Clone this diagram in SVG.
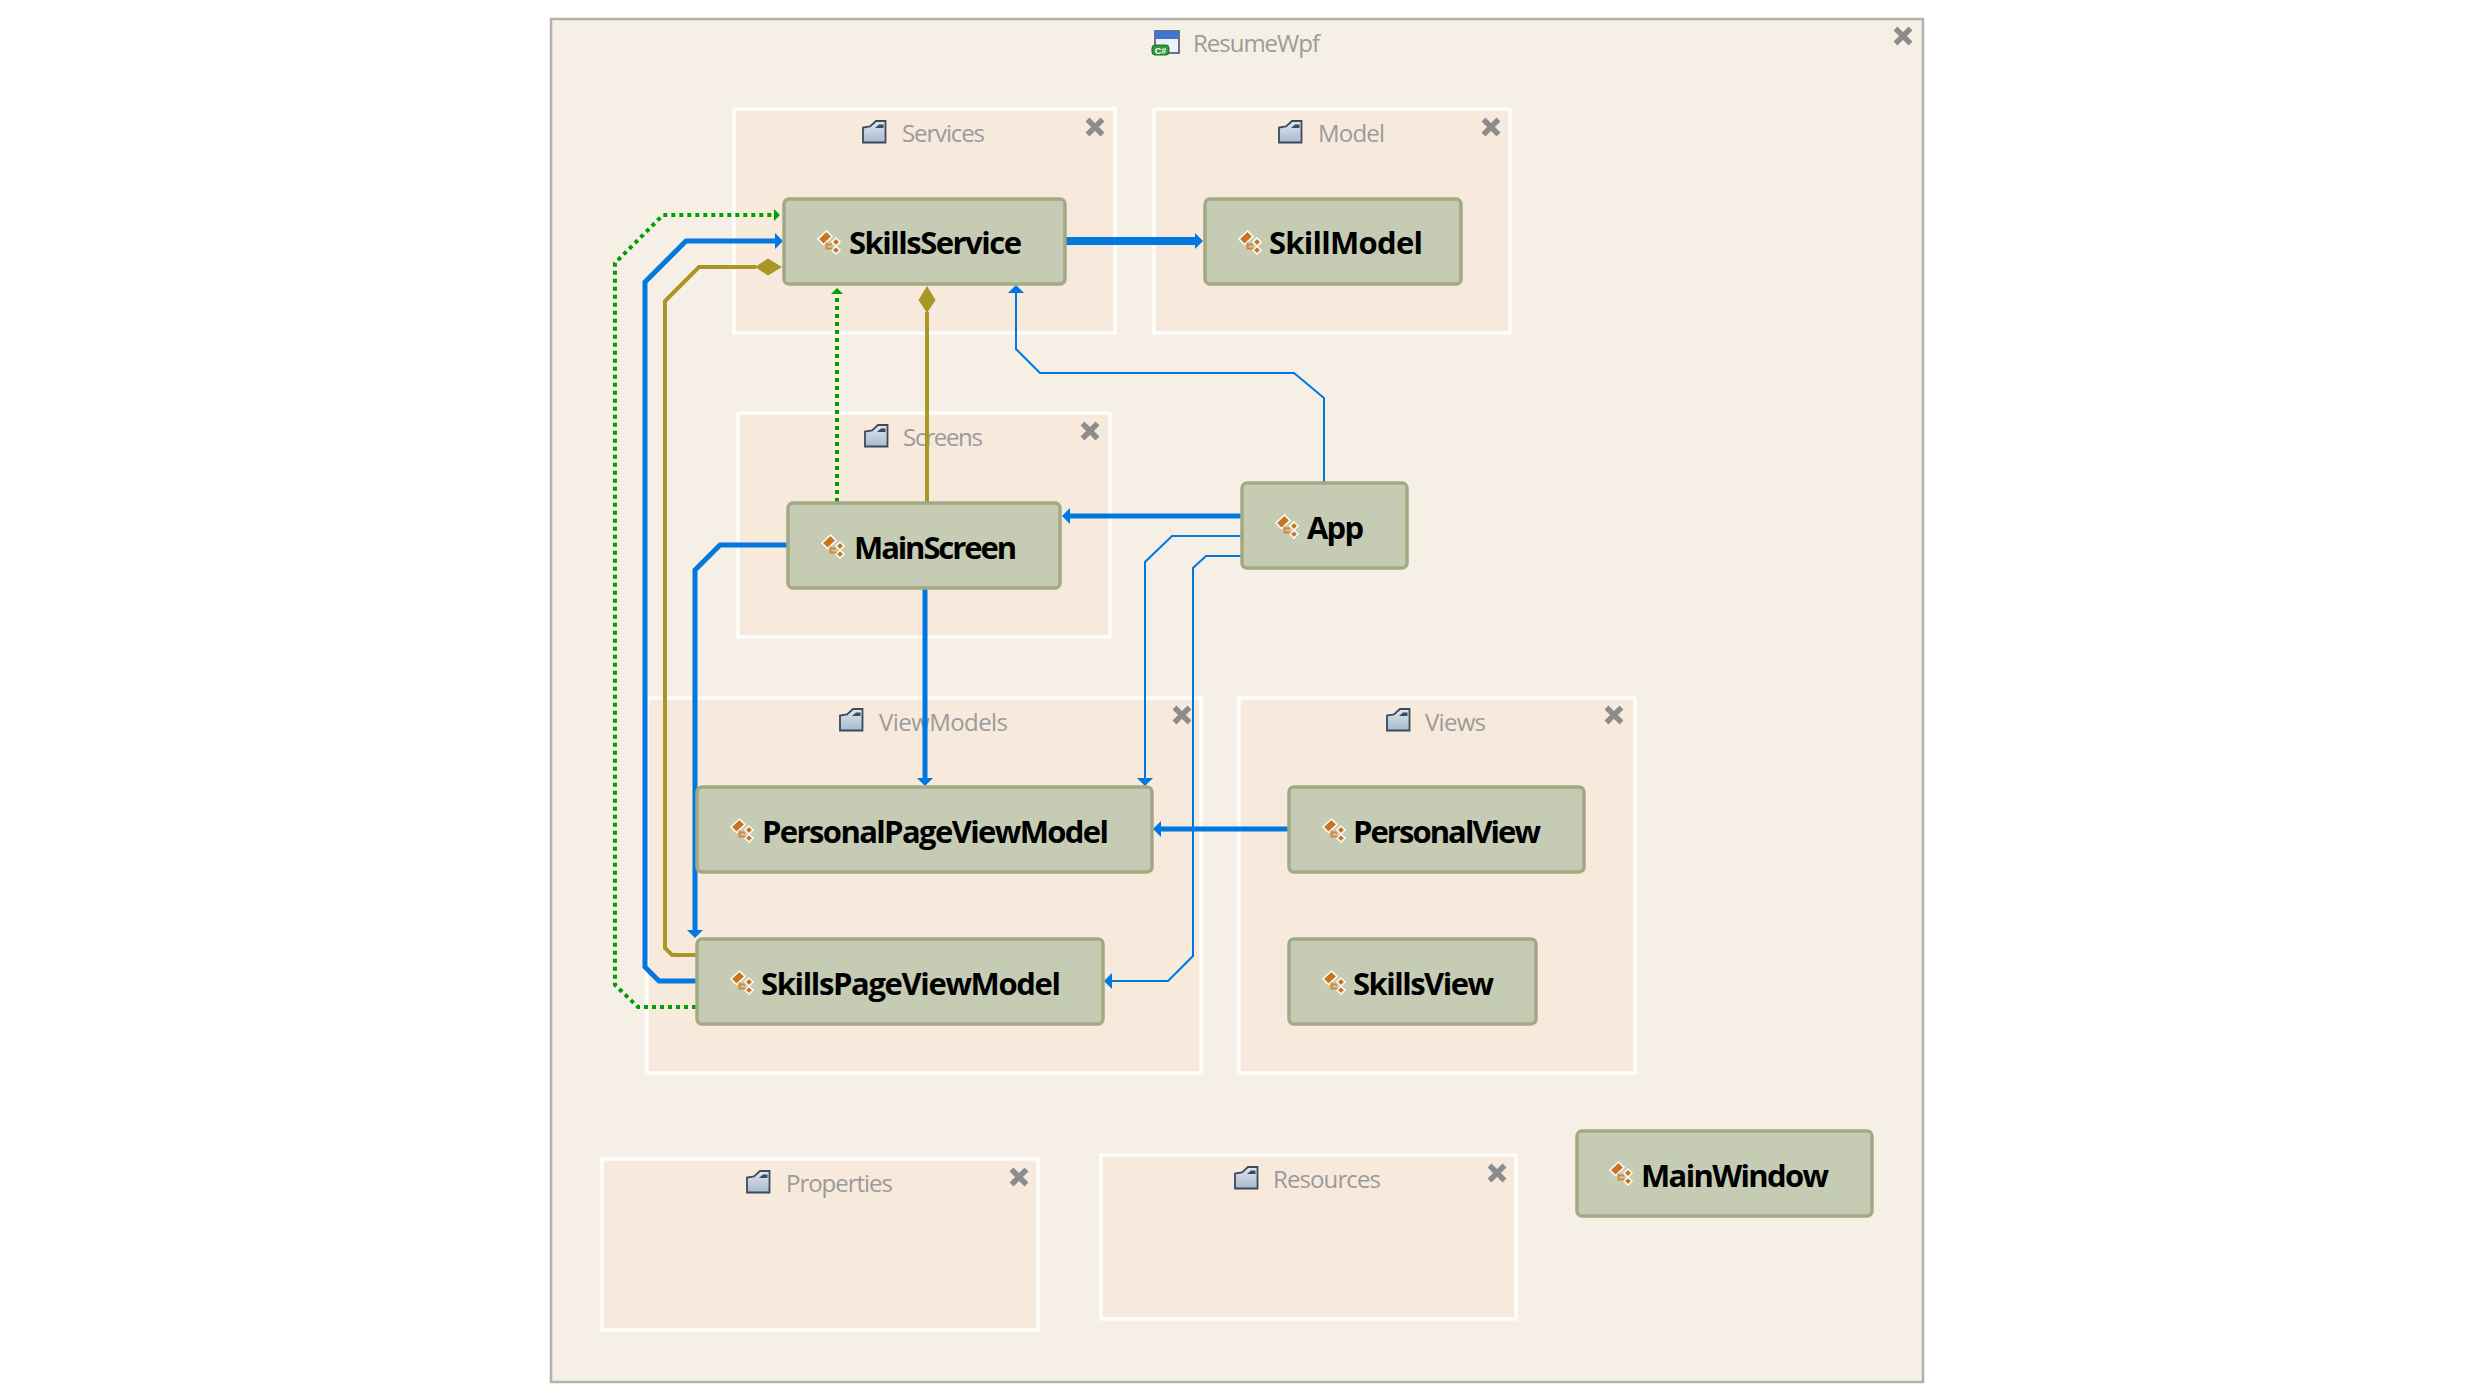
<svg xmlns="http://www.w3.org/2000/svg" width="2474" height="1400" viewBox="0 0 2474 1400">
<style>
.bg{fill:#fff}
.outer{fill:#f6efe5;stroke:#b3b3ad;stroke-width:2.5}
.grp{fill:#f7e9dc;stroke:#fffdfa;stroke-width:3.500}
.gl{font-family:"Open Sans","Noto Sans",sans-serif;font-size:24px;fill:#9b9b9b}
.nd{fill:#c6cbb3;stroke:#a2aa84;stroke-width:3.500}
.nl{font-family:"Open Sans","Noto Sans",sans-serif;font-weight:700;font-size:31px;fill:#000}
.x{stroke:#8c8c8c;stroke-width:5.500;fill:none}
.c{fill:none}
.blue{stroke:#0078e0}
.gold{stroke:#a99626;stroke-width:4}
.green{stroke:#00a000;stroke-width:4;stroke-dasharray:4 4}
.w5{stroke-width:5}
.w2{stroke-width:2}
.w7{stroke-width:8}
</style>
<defs>
<linearGradient id="fg" x1="0" y1="0" x2="0" y2="1"><stop offset="0" stop-color="#dfe6ee"/><stop offset="1" stop-color="#a6bad0"/></linearGradient>
<marker id="ab" markerUnits="userSpaceOnUse" markerWidth="9" markerHeight="18" refX="1" refY="9" orient="auto"><polygon points="0,1 8,9 0,17" fill="#0078e0"/></marker>
<marker id="ag" markerUnits="userSpaceOnUse" markerWidth="8" markerHeight="14" refX="1" refY="7" orient="auto"><polygon points="0,1 6,7 0,13" fill="#00a000"/></marker>
<marker id="dm" markerUnits="userSpaceOnUse" markerWidth="28" markerHeight="18" refX="1" refY="9" orient="auto"><polygon points="0,9 13,0.5 27,9 13,17.500" fill="#a99626"/></marker>
<g id="folder"><path d="M1 22.500V7.500L8 6.500L14 1H23.500V22.500Z" fill="url(#fg)" stroke="#3c4a5c" stroke-width="1.800"/><path d="M13 8L17 4.500H21.500V8Z" fill="#3c4a5c"/></g>
<g id="cls"><path d="M1 9L9.500 1L15 6.500L6.500 14.500Z" fill="#c8751f" stroke="#fff" stroke-width="1.500"/><path d="M15 12L19 8L23 12L19 16Z" fill="#c8751f" stroke="#fff" stroke-width="1.500"/><path d="M15 20L19 16.500L23 20L19 24Z" fill="#c8751f" stroke="#fff" stroke-width="1.500"/><path d="M9.500 12.500V18.500H15.500M10 14.500H15" fill="none" stroke="#d9853a" stroke-width="1.800"/></g>
<g id="cx"><path d="M-7.500-7.500L7.500 7.500M7.500-7.500L-7.500 7.500"/></g>
</defs>
<rect class="bg" width="2474" height="1400"/>
<g id="ResumeWpf">
<rect class="outer" x="551" y="19" width="1372" height="1363"/>
<g><rect x="1155" y="31" width="24" height="22" fill="#eef1f6" stroke="#3c4a64" stroke-width="1.500"/><rect x="1155" y="31" width="24" height="8" fill="#3f74cf"/><rect x="1152" y="45" width="17" height="10" rx="3" fill="#2f9a3c" stroke="#1c6e28"/><text x="1160.500" y="53.500" text-anchor="middle" style="font-family:'Liberation Sans',sans-serif;font-size:9px;font-weight:700;fill:#fff">C#</text></g>
<text class="gl" x="1193" y="52" textLength="127">ResumeWpf</text>
<use href="#cx" class="x" x="1903" y="36"/>
</g>
<g id="Services"><rect class="grp" x="734" y="109" width="381" height="224"/><use href="#folder" x="862" y="120"/><text class="gl" x="902" y="142" textLength="83">Services</text><use href="#cx" class="x" x="1095" y="127"/></g>
<g id="Model"><rect class="grp" x="1154" y="109" width="356" height="224"/><use href="#folder" x="1278" y="120"/><text class="gl" x="1318" y="142" textLength="67">Model</text><use href="#cx" class="x" x="1491" y="127"/></g>
<g id="Screens"><rect class="grp" x="738" y="413" width="372" height="224"/><use href="#folder" x="864" y="424"/><text class="gl" x="903" y="446" textLength="80">Screens</text><use href="#cx" class="x" x="1090" y="431"/></g>
<g id="ViewModels"><rect class="grp" x="647" y="698" width="554" height="375"/><use href="#folder" x="839" y="708"/><text class="gl" x="879" y="731" textLength="129">ViewModels</text><use href="#cx" class="x" x="1182" y="715"/></g>
<g id="Views"><rect class="grp" x="1239" y="698" width="396" height="375"/><use href="#folder" x="1386" y="708"/><text class="gl" x="1425" y="731" textLength="61">Views</text><use href="#cx" class="x" x="1614" y="715"/></g>
<g id="Properties"><rect class="grp" x="602" y="1159" width="436" height="171"/><use href="#folder" x="746" y="1170"/><text class="gl" x="786" y="1192" textLength="107">Properties</text><use href="#cx" class="x" x="1019" y="1177"/></g>
<g id="Resources"><rect class="grp" x="1101" y="1155" width="415" height="164"/><use href="#folder" x="1234" y="1166"/><text class="gl" x="1273" y="1188" textLength="108">Resources</text><use href="#cx" class="x" x="1497" y="1173"/></g>
<g id="connectors">
<path class="c green" d="M696 1007H638L615 985V263L663 215H775" marker-end="url(#ag)"/>
<path class="c blue w5" d="M696 981H659L645 967V282L686 241H776" marker-end="url(#ab)"/>
<path class="c gold" d="M696 955H672L665 948V301L699 267H756" marker-end="url(#dm)"/>
<path class="c blue w5" d="M787 545H720L695 570V931" marker-end="url(#ab)"/>
<path class="c green" d="M837 502V293" marker-end="url(#ag)"/>
<path class="c gold" d="M927 502V312" marker-end="url(#dm)"/>
<path class="c blue w2" d="M1324 482V398L1294 373H1040L1016 349V292" marker-end="url(#ab)"/>
<path class="c blue w7" d="M1065 241H1196" marker-end="url(#ab)"/>
<path class="c blue w5" d="M1241 516H1069" marker-end="url(#ab)"/>
<path class="c blue w2" d="M1241 536H1172L1145 562V779" marker-end="url(#ab)"/>
<path class="c blue w2" d="M1241 556H1206L1193 568V956L1168 981H1111" marker-end="url(#ab)"/>
<path class="c blue w5" d="M925 588V779" marker-end="url(#ab)"/>
<path class="c blue w5" d="M1288 829H1160" marker-end="url(#ab)"/>
</g>
<g id="SkillsService"><rect class="nd" x="784" y="199" width="281" height="85" rx="5"/><use href="#cls" x="817" y="230"/><text class="nl" x="849" y="254" textLength="173">SkillsService</text></g>
<g id="SkillModel"><rect class="nd" x="1205" y="199" width="256" height="85" rx="5"/><use href="#cls" x="1238" y="230"/><text class="nl" x="1269" y="254" textLength="154">SkillModel</text></g>
<g id="App"><rect class="nd" x="1242" y="483" width="165" height="85" rx="5"/><use href="#cls" x="1275" y="514"/><text class="nl" x="1307" y="539" textLength="57">App</text></g>
<g id="MainScreen"><rect class="nd" x="788" y="503" width="272" height="85" rx="5"/><use href="#cls" x="821" y="534"/><text class="nl" x="854" y="559" textLength="163">MainScreen</text></g>
<g id="PersonalPageViewModel"><rect class="nd" x="697" y="787" width="455" height="85" rx="5"/><use href="#cls" x="730" y="818"/><text class="nl" x="762" y="843" textLength="347">PersonalPageViewModel</text></g>
<g id="PersonalView"><rect class="nd" x="1289" y="787" width="295" height="85" rx="5"/><use href="#cls" x="1322" y="818"/><text class="nl" x="1353" y="843" textLength="188">PersonalView</text></g>
<g id="SkillsPageViewModel"><rect class="nd" x="697" y="939" width="406" height="85" rx="5"/><use href="#cls" x="730" y="970"/><text class="nl" x="761" y="995" textLength="300">SkillsPageViewModel</text></g>
<g id="SkillsView"><rect class="nd" x="1289" y="939" width="247" height="85" rx="5"/><use href="#cls" x="1322" y="970"/><text class="nl" x="1353" y="995" textLength="141">SkillsView</text></g>
<g id="MainWindow"><rect class="nd" x="1577" y="1131" width="295" height="85" rx="5"/><use href="#cls" x="1609" y="1161"/><text class="nl" x="1641" y="1187" textLength="188">MainWindow</text></g>
</svg>
